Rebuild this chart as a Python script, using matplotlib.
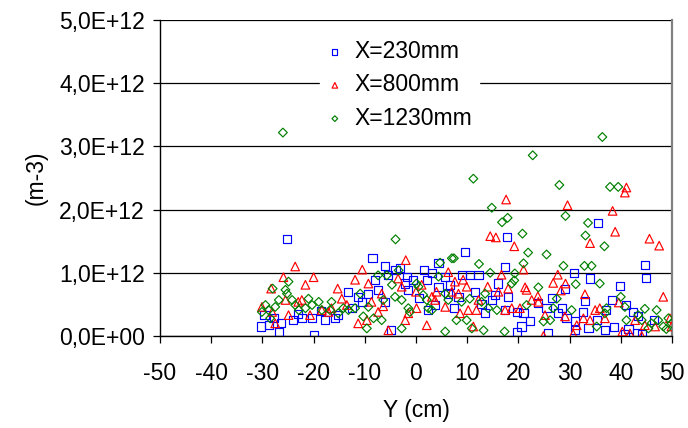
import numpy as np
import matplotlib.pyplot as plt
from matplotlib.ticker import FuncFormatter

plt.rcParams["font.family"] = ["Liberation Sans", "DejaVu Sans"]
plt.rcParams["axes.unicode_minus"] = False

# density profiles across the section, values in units of 1e12 m-3
y_230 = [-30.2, -29.6, -28.8, -27.8, -26.7, -26.3, -25.2, -24.1, -22.3, -20.3, -19.9, -17.7,
         -15.8, -15.2, -13.2, -11.3, -10.6, -9.3, -8.5, -8.0, -7.4, -6.1, -6.1, -5.4, -4.8, -4.0,
         -3.1, -2.1, -1.8, -1.5, -0.5, 1.6, 2.1, 2.4, 3.2, 3.7, 4.4, 4.4, 5.7, 6.3, 6.6, 8.3, 8.9, 9.6,
         10.5, 11.5, 12.2, 13.5, 14.8, 15.4, 16.1, 17.3, 17.4, 17.7, 18.0, 19.7, 19.7, 20.6, 21.0, 22.3,
         23.9, 25.5, 25.8, 27.8, 29.1, 29.4, 30.9, 31.0, 31.0, 32.7, 33.7, 34.0, 35.3, 35.5, 36.9, 37.2,
         38.2, 38.7, 39.8, 40.8, 41.1, 41.5, 42.4, 43.1, 43.4, 44.1, 44.7, 45.0,
         -23.0, -18.5, -12.5, 0.5, 7.5, 12.8, 26.5, 28.5, 33.0, 46.5]
n_230 = [0.15, 0.33, 0.17, 0.28, 0.07, 0.20, 1.53, 0.25, 0.29, 0.29, 0.02, 0.25,
         0.28, 0.33, 0.70, 0.62, 0.54, 0.67, 1.23, 0.88, 0.73, 1.11, 0.54, 0.96, 0.09, 1.04,
         1.07, 0.83, 0.94, 0.73, 0.88, 1.04, 0.88, 0.41, 0.99, 0.49, 1.16, 0.78, 0.94, 0.67, 0.81, 0.62, 0.96, 1.33,
         0.96, 0.70, 0.96, 0.36, 0.57, 0.65, 0.83, 1.09, 0.41, 1.56, 0.62, 0.38, 0.07, 0.15, 0.37, 0.23,
         0.52, 0.44, 0.04, 0.36, 0.75, 0.29, 1.00, 0.23, 0.09, 0.38, 0.12, 0.91, 0.25, 1.79, 0.09, 0.41,
         0.57, 0.14, 0.79, 0.03, 0.49, 0.11, 0.38, 0.04, 0.31, 0.03, 1.12, 0.92,
         0.35, 0.40, 0.45, 0.60, 0.45, 0.50, 0.60, 0.45, 0.55, 0.25]

y_800 = [-30.1, -28.3, -28.1, -27.5, -25.9, -25.5, -24.9, -23.6, -23.0, -22.3, -21.6, -20.7, -20.0, -18.4,
         -17.1, -16.5, -15.3, -14.5, -13.5, -11.9, -11.3, -10.5, -9.6, -9.3, -8.7, -7.4, -6.7, -6.4, -5.4,
         -3.5, -2.8, -2.1, -2.0, -1.5, 0.0, 0.1, 1.1, 2.1, 3.1, 3.7, 4.0, 5.7, 6.3, 7.0, 7.6, 8.3, 8.6, 9.2,
         9.9, 10.2, 11.2, 11.8, 12.2, 14.0, 14.5, 15.6, 16.1, 16.7, 17.4, 17.6, 18.0, 18.7, 19.2, 20.3, 21.0,
         21.3, 21.6, 22.6,
         23.8, 23.9, 24.9, 25.2, 26.8, 27.7, 28.3, 29.1, 29.2, 29.6, 30.7, 31.4, 32.7, 33.0, 34.0, 34.0,
         35.0, 35.9,
         36.9, 38.4, 38.9, 39.6, 40.3, 40.8, 41.1, 41.8, 42.8, 44.1, 44.7, 45.6, 46.7, 47.5, 48.3, 49.6, 49.9]
n_800 = [0.46, 0.75, 0.38, 0.20, 0.93, 0.57, 0.33, 1.10, 0.54, 0.57, 0.81, 0.33, 0.93, 0.41,
         0.38, 0.44, 0.75, 0.59, 0.49, 0.89, 0.20, 1.05, 0.25, 0.83, 0.54, 0.38, 0.67, 0.47, 0.09,
         0.91, 0.78, 0.25, 1.20, 0.36, 0.70, 0.44, 0.81, 0.17, 0.62, 0.57, 0.70, 0.46, 1.01, 0.70, 0.86, 0.67, 0.36, 0.89,
         0.78, 0.41, 0.15, 0.41, 0.57, 0.78, 1.58, 1.56, 0.70, 0.97, 0.41, 2.16, 0.75, 0.44, 1.42, 0.44, 1.05,
         0.77, 0.73, 0.57,
         0.63, 0.54, 0.00, 0.33, 0.84, 0.97, 0.72, 0.31, 0.83, 2.07, 0.03, 0.17, 0.28, 0.66, 1.47, 0.25,
         0.41, 0.44,
         0.28, 1.98, 1.65, 0.53, 0.07, 2.27, 2.35, 0.04, 0.25, 0.00, 0.17, 1.54, 0.15, 1.43, 0.62, 0.28, 0.15]

y_1230 = [-30.1, -29.4, -28.8, -28.5, -28.0, -27.5, -26.8, -26.0, -25.5, -25.2, -24.9, -24.2, -23.6, -22.9,
          -21.6, -21.0, -20.3, -19.0, -18.4,
          -16.8, -16.5, -15.2, -14.2, -13.2, -11.9, -10.9, -10.3, -9.6, -9.3, -8.3, -7.4, -6.7, -6.4, -5.7,
          -4.7, -4.1, -4.0,
          -3.4, -2.8, -2.8, -1.5, -1.2, 0.1, 0.5, 1.4, 2.1, 2.4, 3.1, 4.4, 4.7, 5.7, 5.7, 6.3, 7.0, 7.4, 7.9, 8.9,
          9.9, 10.5, 10.9, 11.2, 12.3, 12.8, 13.2, 13.5, 14.1, 14.5, 14.8, 15.8, 16.8, 17.3, 17.9, 18.7, 19.2,
          19.3, 20.8, 21.0, 21.6, 21.9, 22.8,
          23.9, 24.9, 25.5, 26.2, 26.8, 27.5, 28.0, 28.8, 29.2, 30.4, 31.2, 32.9, 33.1, 33.6, 34.3, 35.3, 35.9,
          36.4, 36.8, 36.9,
          37.2, 37.9, 39.5, 40.0, 40.8, 41.1, 43.4, 44.1, 44.7, 45.4, 46.0, 47.0, 47.3, 48.3, 48.9, 49.3, 49.9]
n_1230 = [0.38, 0.49, 0.41, 0.28, 0.75, 0.46, 0.57, 3.22, 0.73, 0.67, 0.86, 0.57, 0.49, 0.41,
          0.44, 0.59, 0.49, 0.54, 0.41,
          0.41, 0.54, 0.36, 0.44, 0.41, 0.44, 0.67, 0.31, 0.12, 0.46, 0.28, 0.96, 0.25, 0.57, 0.96,
          0.81, 0.62, 1.53,
          1.04, 0.57, 0.12, 0.44, 0.38, 0.83, 0.78, 0.65, 0.57, 0.44, 0.41, 0.94, 1.16, 0.67, 0.07, 0.57, 1.23, 1.23, 0.25, 0.54,
          0.25, 0.59, 0.12, 2.49, 1.14, 0.54, 0.09, 0.67, 0.44, 1.00, 2.03, 0.41, 1.80, 0.07, 1.87, 0.83, 0.88,
          0.99, 1.62, 1.15, 0.49, 1.32, 2.86,
          0.77, 0.23, 1.29, 0.25, 0.44, 0.59, 2.39, 1.11, 1.90, 0.41, 0.82, 1.11, 1.59, 1.79, 1.11, 0.15, 0.83,
          3.15, 1.42, 0.36,
          0.44, 2.36, 2.36, 0.62, 0.46, 0.25, 0.33, 0.25, 0.43, 0.12, 0.20, 0.41, 0.25, 0.15, 0.11, 0.28, 0.20]

scale = 1e12

fig = plt.figure(figsize=(6.88, 4.28), dpi=100)
ax = fig.add_axes([0.2326, 0.215, 0.7441, 0.738])

ax.scatter(y_230, np.array(n_230) * scale, marker="s", s=34, facecolors="none",
           edgecolors="#0000FF", linewidths=0.85, label="X=230mm", zorder=3)
ax.scatter(y_800, np.array(n_800) * scale, marker="^", s=38, facecolors="none",
           edgecolors="#FF0000", linewidths=0.85, label="X=800mm", zorder=3)
ax.scatter(y_1230, np.array(n_1230) * scale, marker="D", s=20, facecolors="none",
           edgecolors="#008000", linewidths=0.85, label="X=1230mm", zorder=3)

ax.set_xlim(-50, 50)
ax.set_ylim(0, 5e12)
ax.set_xticks(np.arange(-50, 51, 10))
ax.set_yticks(np.arange(0, 5.01e12, 1e12))


def sci_comma(v, pos):
    if v == 0:
        return "0,0E+00"
    return f"{v / 1e12:.1f}".replace(".", ",") + "E+12"


ax.yaxis.set_major_formatter(FuncFormatter(sci_comma))
ax.yaxis.grid(True, color="black", linewidth=0.9, zorder=1)
ax.set_axisbelow(True)

ax.spines["top"].set_visible(False)
ax.spines["right"].set_color("#808080")
ax.spines["right"].set_linewidth(1.6)
ax.spines["left"].set_linewidth(1.0)
ax.spines["bottom"].set_linewidth(1.0)

ax.tick_params(axis="both", direction="out", length=5, width=0.9, labelsize=16.5, colors="black")
ax.tick_params(axis="x", pad=14)
ax.tick_params(axis="y", pad=6)

ax.set_xlabel("Y (cm)", fontsize=16.5, labelpad=10)
ax.set_ylabel("(m-3)", fontsize=16.5, labelpad=8)

leg = ax.legend(loc="upper left", bbox_to_anchor=(0.29, 0.995), fontsize=16.5,
                frameon=True, facecolor="white", edgecolor="white", framealpha=1,
                markerscale=0.65, handlelength=0.7, handletextpad=0.5,
                labelspacing=0.45, borderpad=0.3, fancybox=False)
leg.set_zorder(2)

plt.savefig("out.png", dpi=100)
plt.close()
